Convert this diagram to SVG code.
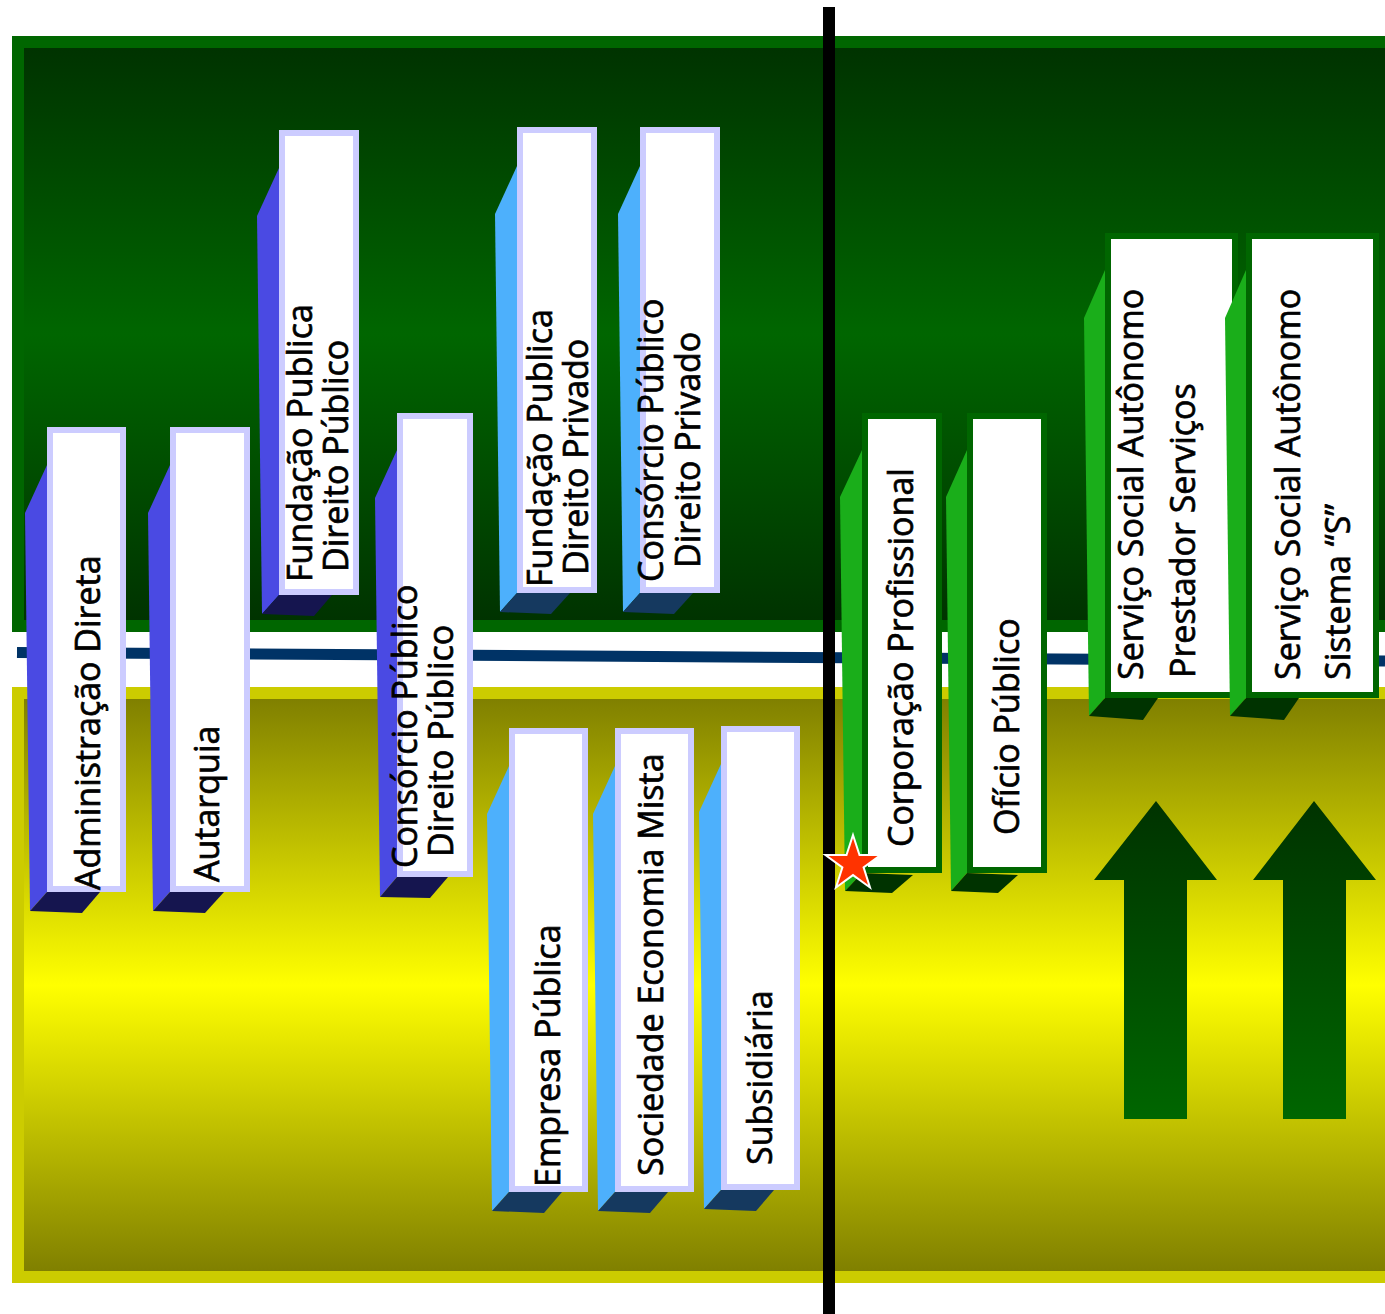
<svg xmlns="http://www.w3.org/2000/svg" width="1385" height="1314" viewBox="0 0 1385 1314">
<style>
.lbl{font-family:"Open Sans","Noto Sans","DejaVu Sans",sans-serif;font-size:34px;fill:#000;stroke:#000;stroke-width:0.7}
.frontB{fill:#fff;stroke:#ccccff;stroke-width:6}
.frontG{fill:#fff;stroke:#006600;stroke-width:6}
.sideB{fill:#4a4ae3}
.botB{fill:#15154f}
.sideL{fill:#4db0fc}
.botL{fill:#15395f}
.sideG{fill:#1aae1a}
.botG{fill:#003300}
.arrow{fill:url(#gArrow)}
</style>
<defs>
<linearGradient id="gGreen" x1="0" y1="48" x2="0" y2="620" gradientUnits="userSpaceOnUse">
<stop offset="0" stop-color="#003300"/><stop offset="0.5" stop-color="#006600"/><stop offset="1" stop-color="#003300"/>
</linearGradient>
<linearGradient id="gYellow" x1="0" y1="699" x2="0" y2="1271" gradientUnits="userSpaceOnUse">
<stop offset="0" stop-color="#808000"/><stop offset="0.5" stop-color="#ffff00"/><stop offset="1" stop-color="#808000"/>
</linearGradient>
<linearGradient id="gArrow" x1="0" y1="0" x2="0" y2="1">
<stop offset="0" stop-color="#003300"/><stop offset="1" stop-color="#006600"/>
</linearGradient>
</defs>
<rect width="1385" height="1314" fill="#fff"/>
<g id="background">
<rect x="12" y="36" width="1380" height="596" fill="#006600"/>
<rect x="24" y="48" width="1370" height="572" fill="url(#gGreen)"/>
<rect x="12" y="687" width="1380" height="596" fill="#cccc00"/>
<rect x="24" y="699" width="1370" height="572" fill="url(#gYellow)"/>
</g>
<g id="connectors">
<line x1="17" y1="652.5" x2="1385" y2="661" stroke="#003366" stroke-width="11"/>
<rect x="823" y="7" width="12" height="1307" fill="#000"/>
</g>
<g id="n1">
<polygon class="sideB" points="47,465 25,513 30,911 47,892"/>
<polygon class="botB" points="30,911 47,892 100,892 82,913"/>
<rect class="frontB" x="50" y="430" width="73" height="459"/>
<text class="lbl" transform="translate(100,890) rotate(-90)">Administração Direta</text>
</g>
<g id="n2">
<polygon class="sideB" points="170,465 148,513 153,911 170,892"/>
<polygon class="botB" points="153,911 170,892 224,892 205,913"/>
<rect class="frontB" x="173" y="430" width="74" height="459"/>
<text class="lbl" transform="translate(219,882) rotate(-90)">Autarquia</text>
</g>
<g id="n3">
<polygon class="sideB" points="279,168 257,216 262,614 279,595"/>
<polygon class="botB" points="262,614 279,595 332,595 314,616"/>
<rect class="frontB" x="282" y="133" width="74" height="459"/>
<text class="lbl" transform="translate(312,582) rotate(-90)">Fundação Publica</text>
<text class="lbl" transform="translate(348,572) rotate(-90)">Direito Público</text>
</g>
<g id="n4">
<polygon class="sideB" points="397,450 375,498 380,897 397,877"/>
<polygon class="botB" points="380,897 397,877 448,877 430,898"/>
<rect class="frontB" x="400" y="416" width="70" height="458"/>
<text class="lbl" transform="translate(417,868) rotate(-90)">Consórcio Público</text>
<text class="lbl" transform="translate(453,857) rotate(-90)">Direito Público</text>
</g>
<g id="n5">
<polygon class="sideL" points="517,166 495,214 500,612 517,593"/>
<polygon class="botL" points="500,612 517,593 570,593 551,614"/>
<rect class="frontB" x="520" y="130" width="74" height="460"/>
<text class="lbl" transform="translate(552,587) rotate(-90)">Fundação Publica</text>
<text class="lbl" transform="translate(588,575) rotate(-90)">Direito Privado</text>
</g>
<g id="n6">
<polygon class="sideL" points="640,166 618,214 623,612 640,593"/>
<polygon class="botL" points="623,612 640,593 693,593 674,614"/>
<rect class="frontB" x="643" y="130" width="74" height="460"/>
<text class="lbl" transform="translate(663,582) rotate(-90)">Consórcio Público</text>
<text class="lbl" transform="translate(700,568) rotate(-90)">Direito Privado</text>
</g>
<g id="n7">
<polygon class="sideL" points="509,766 487,814 492,1211 509,1192"/>
<polygon class="botL" points="492,1211 509,1192 562,1192 544,1213"/>
<rect class="frontB" x="512" y="731" width="73" height="458"/>
<text class="lbl" transform="translate(560,1187) rotate(-90)">Empresa Pública</text>
</g>
<g id="n8">
<polygon class="sideL" points="615,766 593,814 598,1211 615,1192"/>
<polygon class="botL" points="598,1211 615,1192 668,1192 650,1213"/>
<rect class="frontB" x="618" y="731" width="73" height="458"/>
<text class="lbl" transform="translate(663,1176) rotate(-90)">Sociedade Economia Mista</text>
</g>
<g id="n9">
<polygon class="sideL" points="721,764 699,812 704,1209 721,1190"/>
<polygon class="botL" points="704,1209 721,1190 774,1190 756,1211"/>
<rect class="frontB" x="724" y="729" width="73" height="458"/>
<text class="lbl" transform="translate(772,1165) rotate(-90)">Subsidiária</text>
</g>
<g id="n10">
<polygon class="sideG" points="862,450 840,497 845,891 862,873"/>
<polygon class="botG" points="845,891 862,873 913,875 892,893"/>
<rect class="frontG" x="865" y="416" width="74" height="454"/>
<text class="lbl" transform="translate(913,847) rotate(-90)">Corporação Profissional</text>
</g>
<g id="n11">
<polygon class="sideG" points="967,450 946,497 951,891 967,873"/>
<polygon class="botG" points="951,891 967,873 1018,875 998,893"/>
<rect class="frontG" x="970" y="416" width="74" height="454"/>
<text class="lbl" transform="translate(1019,835) rotate(-90)">Ofício Público</text>
</g>
<g id="n12">
<polygon class="sideG" points="1105,270 1084,318 1089,716 1105,698"/>
<polygon class="botG" points="1089,716 1105,698 1158,698 1143,720"/>
<rect class="frontG" x="1108" y="236" width="127" height="459"/>
<text class="lbl" transform="translate(1143,680) rotate(-90)">Serviço Social Autônomo</text>
<text class="lbl" transform="translate(1195,678) rotate(-90)">Prestador Serviços</text>
</g>
<g id="n13">
<polygon class="sideG" points="1246,270 1225,318 1230,716 1246,698"/>
<polygon class="botG" points="1230,716 1246,698 1299,698 1284,720"/>
<rect class="frontG" x="1249" y="236" width="127" height="459"/>
<text class="lbl" transform="translate(1300,680) rotate(-90)">Serviço Social Autônomo</text>
<text class="lbl" transform="translate(1350,680) rotate(-90)">Sistema “S”</text>
</g>
<g id="arrows">
<polygon class="arrow" points="1156,801 1217,880 1187,880 1187,1119 1124,1119 1124,880 1094,880"/>
<polygon class="arrow" points="1314,801 1376,880 1346,880 1346,1119 1283,1119 1283,880 1253,880"/>
</g>
<g id="star">
<polygon points="853,835 859.5,855 880.6,855 863.6,867.4 870,887.5 853,875.1 836,887.5 842.4,867.4 825.4,855 846.5,855" fill="#ff3300" stroke="#fff" stroke-width="2"/>
</g>
</svg>
